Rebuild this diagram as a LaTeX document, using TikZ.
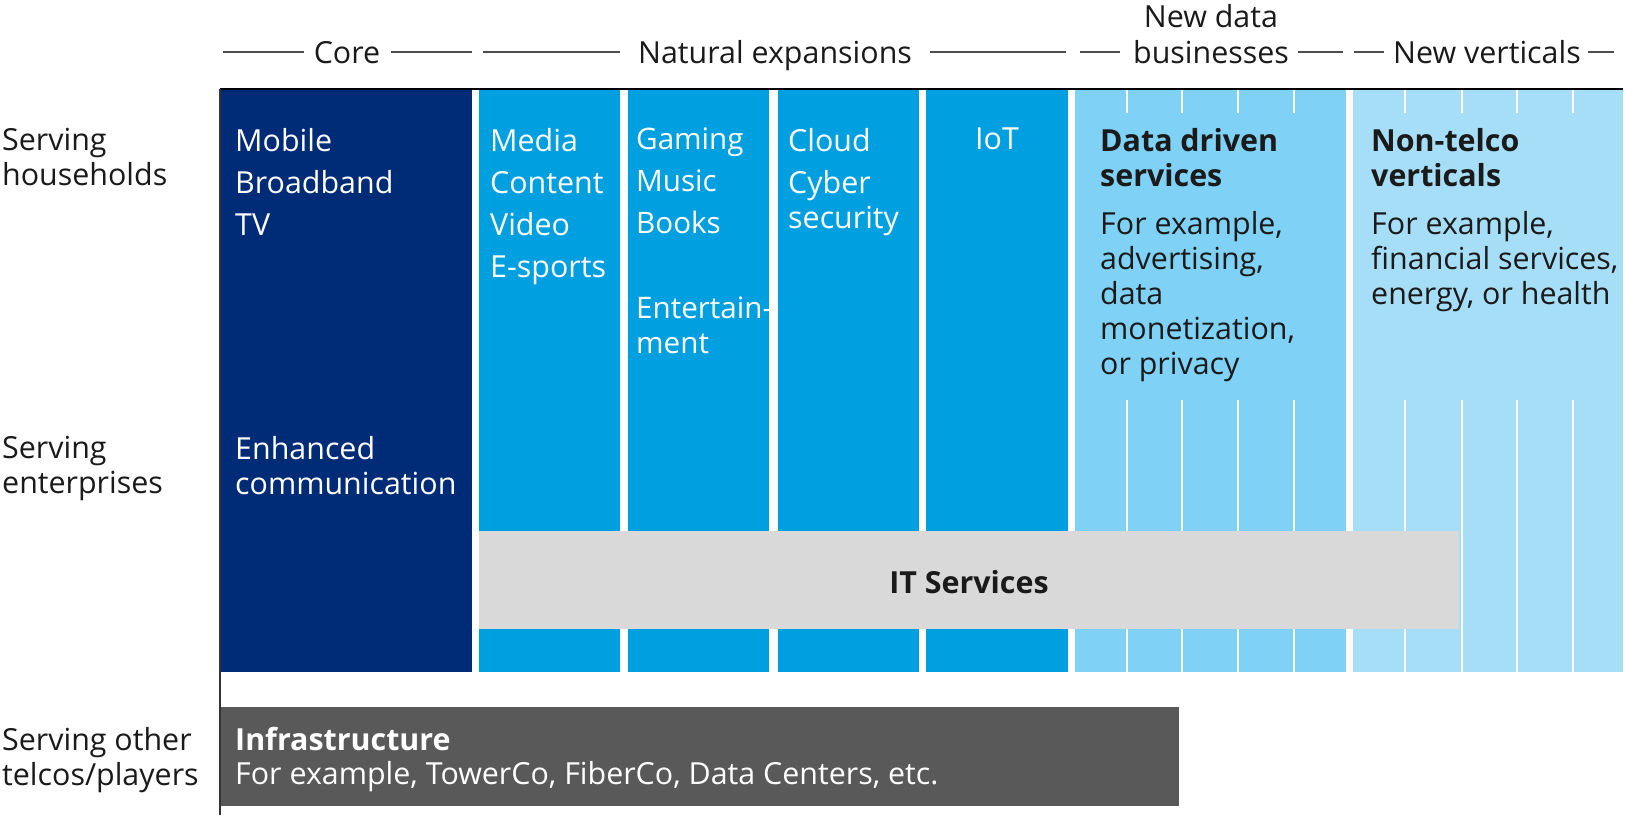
\documentclass[tikz,border=0pt]{standalone}
\usepackage{fontspec}
\setmainfont{Open Sans}
\definecolor{navy}{HTML}{002C77}
\definecolor{midblue}{HTML}{009FDF}
\definecolor{datablue}{HTML}{7FD1F5}
\definecolor{vertblue}{HTML}{A6DEF8}
\definecolor{itgrey}{HTML}{D9D9D9}
\definecolor{infragrey}{HTML}{595959}
\definecolor{ink}{HTML}{1A1A1A}
\begin{document}
\begin{tikzpicture}[x=1pt,y=-1pt,
  txt/.style={font=\fontsize{30.4}{35}\selectfont, inner sep=0pt, anchor=north west, align=left, text=ink},
  wtxt/.style={txt, text=white},
  hdr/.style={font=\fontsize{30.4}{36}\selectfont, inner sep=0pt, anchor=base, align=center, text=ink},
  hline/.style={line width=1.2pt, draw=black!70},
  tickline/.style={draw=white, line width=2pt}]
\useasboundingbox (0,0) rectangle (1626,815);

% columns
\fill[navy] (220,89) rectangle (472,672);
\fill[midblue] (479,89) rectangle (620,672);
\fill[midblue] (628,89) rectangle (769,672);
\fill[midblue] (778,89) rectangle (919,672);
\fill[midblue] (926,89) rectangle (1068,672);
\fill[datablue] (1075,89) rectangle (1346,672);
\fill[vertblue] (1353,89) rectangle (1623,672);

% white ticks
\foreach \x in {1127,1182,1238,1294,1405,1462,1517,1573} {
  \draw[tickline] (\x,89) -- (\x,113);
  \draw[tickline] (\x,400) -- (\x,672);
}

% IT services band
\fill[itgrey] (479,531) rectangle (1459,629);
\node[font=\fontsize{30.4}{36}\selectfont\bfseries, inner sep=0pt, text=ink] (it) at (969,582) {IT Services};

% infrastructure
\fill[infragrey] (220,707) rectangle (1179,806);
\node[wtxt, font=\fontsize{30.4}{34}\selectfont] (infra) at (235,727) {\textbf{Infrastructure}\\For example, TowerCo, FiberCo, Data Centers, etc.};

% borders
\draw[line width=2pt, black] (220,89) -- (1623,89);
\draw[line width=1.2pt, black!80] (220,89) -- (220,815);

% header
\node[hdr] (core) at (347,63) {Core};
\node[hdr] (nat) at (775,63) {Natural expansions};
\node[hdr] (newdata) at (1211,27) {New data};
\node[hdr] (bus) at (1211,63) {businesses};
\node[hdr] (newvert) at (1487,63) {New verticals};
\coordinate (c1) at (223,52); \coordinate (c2) at (472,52);
\coordinate (n1) at (483,52); \coordinate (n2) at (1066,52);
\coordinate (d1) at (1080,52); \coordinate (d2) at (1343,52);
\coordinate (v1) at (1354,52); \coordinate (v2) at (1614,52);
\draw[hline] (c1) -- (304,52);
\draw[hline] (391,52) -- (c2);
\draw[hline] (n1) -- (620,52);
\draw[hline] (930,52) -- (n2);
\draw[hline] (d1) -- (1120,52);
\draw[hline] (1298,52) -- (d2);
\draw[hline] (v1) -- (1384,52);
\draw[hline] (1588,52) -- (v2);

% row labels
\node[txt] (rowA) at (2,128) {Serving\\households};
\node[txt] (rowB) at (2,436) {Serving\\enterprises};
\node[txt] (rowC) at (2,727) {Serving other\\telcos/players};

% column texts
\node[wtxt] (coreA) at (235,128) {Mobile\\[7pt]Broadband\\[7pt]TV};
\node[wtxt] (coreB) at (235,436) {Enhanced\\communication};
\node[wtxt] (media) at (490,128) {Media\\[7pt]Content\\[7pt]Video\\[7pt]E-sports};
\node[wtxt, font=\fontsize{29.6}{35}\selectfont] (gaming) at (636,128) {Gaming\\[7pt]Music\\[7pt]Books\\[50pt]Entertain-\\ment};
\node[wtxt] (cloud) at (788,128) {Cloud\\[7pt]Cyber\\security};
\node[wtxt, anchor=north] (iot) at (997,128) {IoT};
\node[txt] (data) at (1100,128) {\textbf{Data driven}\\\textbf{services}\\[13pt]For example,\\advertising,\\data\\monetization,\\or privacy};
\node[txt] (vert) at (1371,128) {\textbf{Non-telco}\\\textbf{verticals}\\[13pt]For example,\\financial services,\\energy, or health};
\end{tikzpicture}
\end{document}
